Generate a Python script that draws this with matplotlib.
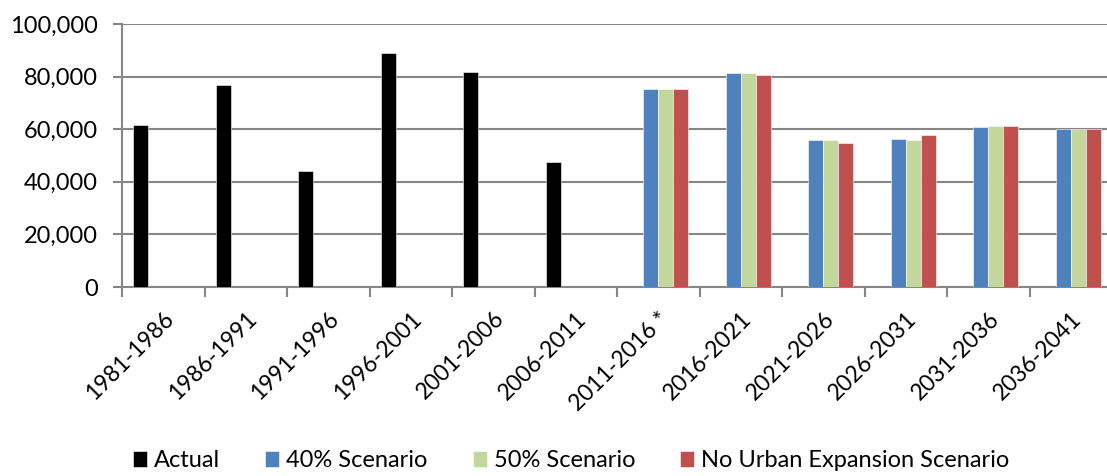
import numpy as np
import matplotlib.pyplot as plt
from matplotlib.ticker import FuncFormatter, FixedLocator

plt.rcParams['font.family'] = ['Lato', 'DejaVu Sans']

categories = ['1981-1986', '1986-1991', '1991-1996', '1996-2001', '2001-2006', '2006-2011',
              '2011-2016 *', '2016-2021', '2021-2026', '2026-2031', '2031-2036', '2036-2041']
nan = np.nan
actual = [61500, 76800, 44000, 88900, 81700, 47500, nan, nan, nan, nan, nan, nan]
scen40 = [nan, nan, nan, nan, nan, nan, 75300, 81500, 55800, 56300, 61000, 60100]
scen50 = [nan, nan, nan, nan, nan, nan, 75300, 81500, 55800, 55900, 61200, 60100]
no_urban = [nan, nan, nan, nan, nan, nan, 75300, 80600, 54700, 57800, 61200, 60100]

series = [('Actual', actual, '#000000'),
          ('40% Scenario', scen40, '#4F81BD'),
          ('50% Scenario', scen50, '#C3D69B'),
          ('No Urban Expansion Scenario', no_urban, '#C0504D')]

fig = plt.figure(figsize=(11.07, 4.76), dpi=100)
ax = fig.add_axes([122/1107, 1 - 287/476, 985/1107, 263/476])

x = np.arange(len(categories))
w = 15/82.5
for i, (name, vals, col) in enumerate(series):
    ax.bar(x + (i - 1.5)*w, vals, width=w, color=col, label=name,
           edgecolor='white', linewidth=0.4, zorder=3)

ax.set_ylim(0, 100000)
ax.set_xlim(-0.5, -0.5 + 985/82.5)
ax.set_yticks(np.arange(0, 100001, 20000))
ax.yaxis.set_major_formatter(FuncFormatter(lambda v, p: f'{int(v):,}'))
ax.yaxis.grid(True, color='#868686', linewidth=1.5, zorder=0)

ax.set_xticks(x)
ax.set_xticklabels(categories, rotation=45, ha='right', rotation_mode='anchor', fontsize=16.5)
ax.xaxis.set_minor_locator(FixedLocator(np.arange(-0.5, 12, 1)))
ax.tick_params(axis='x', which='major', length=0, pad=15)
ax.tick_params(axis='x', which='minor', length=7, width=1.5, color='#868686')
ax.tick_params(axis='y', length=6.5, width=1.5, color='#868686', labelsize=17, pad=11)

for s in ['top', 'right']:
    ax.spines[s].set_visible(False)
for s in ['left', 'bottom']:
    ax.spines[s].set_color('#868686')
    ax.spines[s].set_linewidth(1.5)

fig.legend(loc='lower center', ncol=4, frameon=False, fontsize=17,
           handlelength=0.6, handleheight=0.7, handletextpad=0.3,
           columnspacing=1.9, bbox_to_anchor=(0.516, -0.035))

fig.savefig('out.png', dpi=100)
